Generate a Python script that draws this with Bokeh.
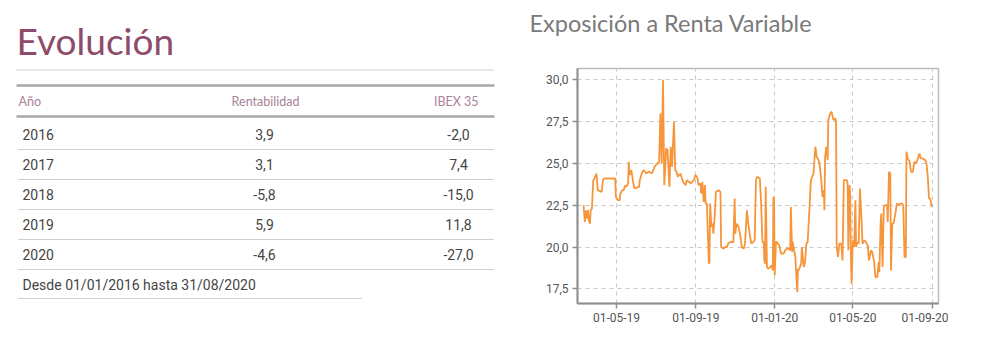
import pandas as pd
from bokeh.plotting import figure
from bokeh.layouts import row, column
from bokeh.models import Range1d, FixedTicker, CustomJSTickFormatter
from bokeh.core.properties import value
from bokeh.embed import file_html
from bokeh.resources import INLINE

# ---------------- data ----------------
years = ["2016", "2017", "2018", "2019", "2020"]
rentabilidad = ["3,9", "3,1", "-5,8", "5,9", "-4,6"]
ibex35 = ["-2,0", "7,4", "-15,0", "11,8", "-27,0"]
headers = ["Año", "Rentabilidad", "IBEX 35"]
footnote = "Desde 01/01/2016 hasta 31/08/2020"
table_title = "Evolución"
chart_title = "Exposición a Renta Variable"

dates = [
    "2019-03-11", "2019-03-13", "2019-03-15", "2019-03-16", "2019-03-18", "2019-03-19", "2019-03-21",
    "2019-03-22", "2019-03-24", "2019-03-26", "2019-03-28", "2019-03-31", "2019-04-02", "2019-04-08",
    "2019-04-10", "2019-04-12", "2019-04-19", "2019-04-29", "2019-04-30", "2019-05-03", "2019-05-06",
    "2019-05-07", "2019-05-10", "2019-05-12", "2019-05-15", "2019-05-16", "2019-05-19", "2019-05-20",
    "2019-05-21", "2019-05-24", "2019-05-27", "2019-05-29", "2019-06-05", "2019-06-06", "2019-06-10",
    "2019-06-12", "2019-06-16", "2019-06-20", "2019-06-25", "2019-06-29", "2019-07-03", "2019-07-06",
    "2019-07-08", "2019-07-10", "2019-07-12", "2019-07-14", "2019-07-17", "2019-07-19", "2019-07-22",
    "2019-07-24", "2019-07-26", "2019-07-29", "2019-07-31", "2019-08-02", "2019-08-04", "2019-08-08",
    "2019-08-12", "2019-08-16", "2019-08-18", "2019-08-24", "2019-08-29", "2019-08-31", "2019-09-03",
    "2019-09-05", "2019-09-08", "2019-09-09", "2019-09-11", "2019-09-13", "2019-09-15", "2019-09-16",
    "2019-09-18", "2019-09-21", "2019-09-22", "2019-09-23", "2019-09-25", "2019-09-27", "2019-09-28",
    "2019-09-30", "2019-10-02", "2019-10-06", "2019-10-09", "2019-10-10", "2019-10-14", "2019-10-16",
    "2019-10-19", "2019-10-21", "2019-10-24", "2019-10-29", "2019-10-31", "2019-11-01", "2019-11-03",
    "2019-11-06", "2019-11-09", "2019-11-11", "2019-11-14", "2019-11-16", "2019-11-19", "2019-11-21",
    "2019-11-24", "2019-11-26", "2019-12-01", "2019-12-03", "2019-12-05", "2019-12-09", "2019-12-11",
    "2019-12-13", "2019-12-15", "2019-12-16", "2019-12-17", "2019-12-18", "2019-12-20", "2019-12-22",
    "2019-12-25", "2019-12-27", "2019-12-29", "2019-12-30", "2019-12-31", "2020-01-01", "2020-01-03",
    "2020-01-04", "2020-01-08", "2020-01-11", "2020-01-15", "2020-01-17", "2020-01-20", "2020-01-22",
    "2020-01-25", "2020-01-26", "2020-01-28", "2020-01-29", "2020-01-31", "2020-02-02", "2020-02-03",
    "2020-02-05", "2020-02-06", "2020-02-07", "2020-02-09", "2020-02-11", "2020-02-12", "2020-02-15",
    "2020-02-17", "2020-02-19", "2020-02-21", "2020-02-24", "2020-02-26", "2020-03-01", "2020-03-04",
    "2020-03-06", "2020-03-09", "2020-03-11", "2020-03-13", "2020-03-15", "2020-03-17", "2020-03-18",
    "2020-03-19", "2020-03-21", "2020-03-23", "2020-03-24", "2020-03-27", "2020-03-29", "2020-04-01",
    "2020-04-04", "2020-04-05", "2020-04-06", "2020-04-08", "2020-04-10", "2020-04-13", "2020-04-15",
    "2020-04-17", "2020-04-19", "2020-04-22", "2020-04-23", "2020-04-24", "2020-04-26", "2020-04-27",
    "2020-04-28", "2020-04-29", "2020-05-01", "2020-05-03", "2020-05-05", "2020-05-06", "2020-05-08",
    "2020-05-10", "2020-05-12", "2020-05-14", "2020-05-16", "2020-05-19", "2020-05-21", "2020-05-24",
    "2020-05-26", "2020-05-29", "2020-05-31", "2020-06-03", "2020-06-05", "2020-06-08", "2020-06-10",
    "2020-06-11", "2020-06-13", "2020-06-14", "2020-06-16", "2020-06-18", "2020-06-20", "2020-06-23",
    "2020-06-24", "2020-06-26", "2020-06-28", "2020-06-29", "2020-07-01", "2020-07-03", "2020-07-06",
    "2020-07-08", "2020-07-11", "2020-07-13", "2020-07-16", "2020-07-18", "2020-07-20", "2020-07-22",
    "2020-07-23", "2020-07-25", "2020-07-28", "2020-07-30", "2020-08-02", "2020-08-04", "2020-08-06",
    "2020-08-09", "2020-08-12", "2020-08-14", "2020-08-17", "2020-08-21", "2020-08-23", "2020-08-25",
    "2020-08-27", "2020-08-29", "2020-08-31",
]
exposure = [
    22.5, 21.5, 22.2, 21.7, 22.2, 21.6, 21.4,
    22.2, 22.3, 24.0, 24.1, 24.4, 23.4, 23.3,
    24.0, 24.1, 24.1, 24.1, 23.0, 22.8, 22.8,
    23.2, 23.4, 23.4, 23.7, 23.6, 23.8, 25.1,
    24.3, 24.6, 23.8, 23.5, 23.6, 24.0, 24.5,
    24.6, 24.4, 24.5, 24.4, 24.8, 25.0, 25.1,
    28.0, 25.0, 30.0, 23.7, 25.9, 25.8, 23.6,
    26.0, 24.8, 27.5, 24.6, 24.5, 24.2, 24.4,
    23.9, 23.7, 24.0, 23.8, 24.0, 24.3, 24.2,
    23.7, 23.8, 23.2, 23.9, 22.7, 23.7, 22.6,
    22.6, 19.0, 19.1, 22.6, 21.2, 21.4, 20.8,
    21.8, 23.3, 23.4, 23.3, 20.0, 19.9, 20.0,
    20.0, 20.2, 20.3, 20.3, 22.9, 20.8, 21.4,
    21.2, 20.6, 20.0, 19.9, 20.2, 22.2, 21.4,
    20.6, 20.2, 20.4, 24.0, 24.2, 24.1, 22.6,
    20.3, 20.3, 19.2, 19.0, 23.6, 18.8, 18.7,
    18.8, 18.9, 18.6, 23.0, 22.8, 18.3, 20.3,
    20.3, 20.1, 19.6, 19.6, 19.8, 19.9, 19.9,
    19.8, 22.4, 19.7, 20.3, 19.8, 19.4, 18.6,
    17.3, 18.7, 18.6, 18.8, 19.0, 20.0, 18.8,
    19.1, 20.2, 20.3, 22.4, 24.0, 24.4, 26.0,
    25.4, 25.2, 24.8, 24.0, 23.0, 23.4, 22.2,
    25.4, 26.0, 25.2, 27.6, 28.0, 28.1, 27.6,
    27.7, 27.4, 20.0, 19.4, 20.2, 20.2, 19.2,
    24.0, 24.0, 24.0, 23.7, 19.8, 23.7, 23.0,
    19.4, 17.8, 20.4, 20.0, 22.8, 20.0, 20.3,
    20.2, 23.5, 22.0, 20.2, 20.4, 20.3, 20.1,
    19.2, 19.8, 19.7, 19.1, 18.2, 18.2, 19.1,
    18.5, 21.4, 22.0, 18.8, 22.4, 22.5, 22.5,
    21.5, 24.5, 24.4, 18.6, 21.4, 21.4, 22.0,
    22.6, 22.5, 22.6, 22.6, 22.5, 19.4, 19.4,
    25.7, 25.3, 25.1, 24.5, 24.5, 25.1, 25.0,
    25.2, 25.6, 25.3, 25.3, 25.2, 25.0, 24.2,
    22.9, 22.9, 22.4,
]

y_ticks = [17.5, 20.0, 22.5, 25.0, 27.5, 30.0]
x_tick_dates = ["2019-05-01", "2019-09-01", "2020-01-01", "2020-05-01", "2020-09-01"]

# ---------------- colours / fonts ----------------
MAUVE = "#8e4b6a"
HEAD = "#a98299"
TXT = "#454545"
GRAY_LINE = "#a8a8a8"
DOT = "#a0a0a0"

TOP_H = 66
TOTAL_H = 357


def blank(width, height, y_top):
    f = figure(width=width, height=height, x_range=Range1d(0, width),
               y_range=Range1d(y_top + height, y_top),
               output_backend="svg", toolbar_location=None, min_border=0,
               x_axis_location=None, y_axis_location=None)
    f.grid.visible = False
    f.outline_line_color = None
    return f


# ---------------- top strip: titles ----------------
top = blank(985, TOP_H, 0)
top.text(x=[16], y=[40], text=[table_title], text_font=value("Lato"), text_font_size="37px",
         text_color=MAUVE, text_baseline="middle", text_align="left")
top.text(x=[529], y=[22], text=[chart_title], text_font=value("Lato"), text_font_size="23.5px",
         text_color="#7a7a7a", text_baseline="middle", text_align="left")

# ---------------- left: table ----------------
left = blank(500, TOTAL_H - TOP_H, TOP_H)

left.segment(x0=[16], y0=[69.5], x1=[493], y1=[69.5], line_color=DOT, line_width=1, line_dash="1 1")
left.segment(x0=[16, 16], y0=[85, 116], x1=[494, 494], y1=[85, 116], line_color=GRAY_LINE, line_width=2.5)

hx = [18, 265, 478]
halign = ["left", "center", "right"]
for h, x, a in zip(headers, hx, halign):
    left.text(x=[x], y=[100.5], text=[h], text_font=value("Lato"), text_font_size="12.5px",
              text_color=HEAD, text_baseline="middle", text_align=a)

row_y = [134 + 30 * i for i in range(len(years))]
left.text(x=[22] * len(years), y=row_y, text=years, text_font=value("Roboto"), text_font_size="14px",
          text_color=TXT, text_baseline="middle", text_align="left")
left.text(x=[264] * len(years), y=row_y, text=rentabilidad, text_font=value("Roboto"), text_font_size="14px",
          text_color=TXT, text_baseline="middle", text_align="center")
left.text(x=[458] * len(years), y=row_y, text=ibex35, text_font=value("Roboto"), text_font_size="14px",
          text_color=TXT, text_baseline="middle", text_align="center")
sep_y = [y + 15 for y in row_y]
left.segment(x0=[18] * len(sep_y), y0=sep_y, x1=[493] * len(sep_y), y1=sep_y,
             line_color=DOT, line_width=1, line_dash="1 1")
foot_y = row_y[-1] + 30
left.text(x=[22], y=[foot_y], text=[footnote], text_font=value("Roboto"), text_font_size="14px",
          text_color=TXT, text_baseline="middle", text_align="left")
left.segment(x0=[18], y0=[foot_y + 14], x1=[361], y1=[foot_y + 14], line_color=DOT, line_width=1, line_dash="1 1")

# ---------------- right: chart ----------------
xd = pd.to_datetime(dates)
x_start = pd.Timestamp("2019-03-01 15:00")
x_end = pd.Timestamp("2020-09-10 15:00")

p = figure(width=448, height=TOTAL_H - TOP_H, x_axis_type="datetime", title=None,
           x_range=Range1d(x_start, x_end), y_range=Range1d(16.62, 30.68),
           output_backend="svg", toolbar_location=None,
           min_border_left=77, min_border_right=10, min_border_top=68 - TOP_H, min_border_bottom=54)

for fig in (top, left, p):
    try:
        fig.frame_align = False
    except Exception:
        pass

p.line(x=xd, y=exposure, line_color="#f7953b", line_width=1.8)

p.outline_line_color = "#bdbdbd"
p.outline_line_width = 1.5

p.yaxis.ticker = FixedTicker(ticks=y_ticks)
p.yaxis.formatter = CustomJSTickFormatter(code="return tick.toFixed(1).replace('.', ',');")
p.xaxis.ticker = FixedTicker(ticks=[pd.Timestamp(d).value // 10**6 for d in x_tick_dates])
p.xaxis.formatter = CustomJSTickFormatter(code="""
const d = new Date(tick);
const dd = String(d.getUTCDate()).padStart(2, '0');
const mm = String(d.getUTCMonth() + 1).padStart(2, '0');
const yy = String(d.getUTCFullYear()).slice(-2);
return dd + '-' + mm + '-' + yy;
""")
for ax in (p.xaxis, p.yaxis):
    ax.axis_line_color = "#8e8e8e"
    ax.axis_line_width = 2
    ax.major_tick_line_color = "#8e8e8e"
    ax.major_tick_line_width = 1.5
    ax.major_tick_out = 5
    ax.major_tick_in = 0
    ax.minor_tick_line_color = None
    ax.major_label_text_font = "Roboto"
    ax.major_label_text_font_size = "12px"
    ax.major_label_text_color = "#555555"
    ax.major_label_standoff = 4

p.grid.grid_line_color = "#c8c8c8"
p.grid.grid_line_dash = "4 4"
p.grid.grid_line_width = 1

layout = column(top, row(left, p, spacing=0), spacing=0)
open("out.html", "w").write(file_html(layout, INLINE))
